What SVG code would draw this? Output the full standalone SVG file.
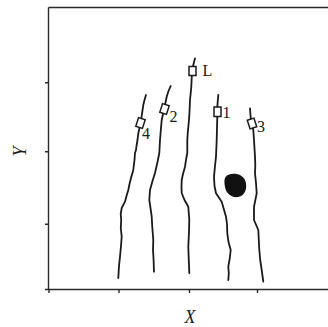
<svg xmlns="http://www.w3.org/2000/svg" width="328" height="327" viewBox="0 0 328 327">
<style>
.ax{stroke:#2a2a2a;stroke-width:1.4;fill:none}
.cv{stroke:#1a1a1a;stroke-width:1.8;fill:none;stroke-linejoin:round;stroke-linecap:round}
.bx{fill:#fff;stroke:#1a1a1a;stroke-width:1.5}
.lb{font-family:"Liberation Serif","Times New Roman",serif;font-size:16px;fill:#1a1a1a}
.al{font-family:"Liberation Serif","Times New Roman",serif;font-style:italic;font-size:18px;fill:#1a1a1a}
</style>
<rect width="328" height="327" fill="#fff"/>
<g id="axes">
<path class="ax" d="M48.5,7.5H328M48.5,7.5V290M45,289.5H328"/>
<path class="ax" d="M45,82.7H48.5M45,151.7H48.5M45,224.3H48.5M49,289.5V293M119,289.5V293M189.5,289.5V293M257.5,289.5V293"/>
<text class="al" text-anchor="middle" x="190" y="323">X</text>
<text class="al" text-anchor="middle" transform="translate(26,151.5) rotate(-90)">Y</text>
</g>
<g id="connectors">
<polyline class="cv" points="146,95 144.5,100 143.3,105 140.7,122.7 138.3,133.3 137.5,140 136.5,146 136,150 135,153 134.5,160 133.3,170 131,178 129.5,184 128.3,190 126.5,196 125,201.7 121.7,208 120.7,214 121.2,220 120.8,228 121.7,236.7 121,246 120,256.7 119,266 118.3,278"/>
<polyline class="cv" points="170.7,86 168.5,91 166.7,96.7 164.3,108.3 161.7,120 161,128 160.5,134 160,140 159.3,153 157.5,162 155,173 152.5,181 150,190 149.3,200 150.5,208 151.7,216.7 152.2,226 153.3,240 153,250 153.6,260 154,271.7"/>
<polyline class="cv" points="195,58.3 193.3,65 192.3,70 191.7,78 191.2,88 190,100 189.5,112 188.8,122 187.8,132 187.3,140 187.3,153 186,160 185,166.7 183,174 181.7,180 181.5,187 181.7,193 184.5,200 188.3,206.7 189.3,220 189,232 188.3,246.7 188.7,258 189.3,273"/>
<polyline class="cv" points="218.3,95 217.3,106.7 217.3,116.7 217,128 216.7,140 216,156.7 215,166 214,176.7 214.5,186 216,193.3 221.7,201.7 223.5,208 226,216.7 227,224 227.3,233.3 228.5,242 230.7,250 229.8,258 228.3,266.7 228.8,273 228.3,280"/>
<polyline class="cv" points="250,108.3 250.7,118.3 251.7,123.3 253.3,130 254,140 255,156.7 255.3,165 255,173.3 256,183 256.7,193.3 254,206.7 254,220 258.3,230 258.8,240 259.3,250 260.2,260 261.7,270 263.3,281.7"/>
</g>
<g id="nodeL"><rect class="bx" x="189" y="66.5" width="7" height="9"/><text class="lb" x="202.5" y="76">L</text></g>
<g id="node1"><rect class="bx" x="214" y="107" width="7" height="9.5"/><text class="lb" x="222.5" y="118">1</text></g>
<g id="node2"><rect class="bx" x="-3.5" y="-4.5" width="7" height="9" transform="translate(164.5,109) rotate(18)"/><text class="lb" x="169.5" y="122">2</text></g>
<g id="node4"><rect class="bx" x="-3.5" y="-4.5" width="7" height="9" transform="translate(140.5,123) rotate(18)"/><text class="lb" x="142" y="138.5">4</text></g>
<g id="node3"><rect class="bx" x="-3.5" y="-4.5" width="7" height="9" transform="translate(252,123.5) rotate(-18)"/><text class="lb" x="257" y="132">3</text></g>
<g id="blob"><path fill="#111" d="M228,175 C234,172.5 242,174 245,180 C248,187 245.5,196 238,197 C231,198 226,193 225,187 C224,181 224,177 228,175 Z"/></g>
</svg>
